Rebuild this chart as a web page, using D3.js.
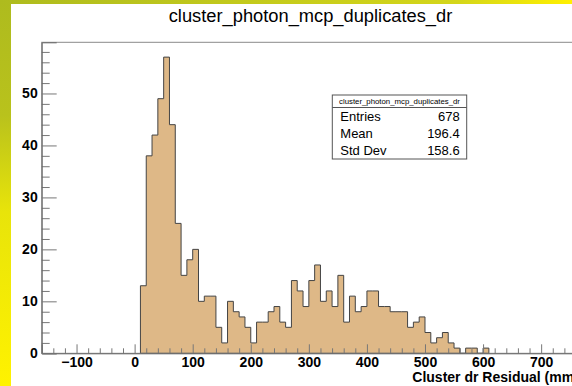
<!DOCTYPE html>
<html>
<head>
<meta charset="utf-8">
<script src="https://cdn.jsdelivr.net/npm/d3@7"></script>
<style>
  html, body { margin: 0; padding: 0; background: #fff; }
  svg { display: block; font-family: "Liberation Sans", Arial, sans-serif; }
  .tick text { font-weight: bold; font-size: 14px; fill: #000; }
</style>
</head>
<body>
<svg id="chart" width="572" height="386"></svg>
<script>
// histogram: lower bin edges (mm) and counts, bin width 10
const binLow = [10, 20, 30, 40, 50, 60, 70, 80, 90, 100,
  110, 120, 130, 140, 150, 160, 170, 180, 190, 200,
  210, 220, 230, 240, 250, 260, 270, 280, 290, 300,
  310, 320, 330, 340, 350, 360, 370, 380, 390, 400,
  410, 420, 430, 440, 450, 460, 470, 480, 490, 500,
  510, 520, 530, 540, 550, 560, 570, 580, 590, 600];
const counts = [13, 38, 42, 49, 57, 44, 25, 15, 18, 20,
  10, 11, 11, 5, 2, 10, 8, 7, 5, 2,
  6, 6, 8, 9, 6, 5, 14, 12, 9, 14,
  17, 10, 12, 9, 15, 6, 11, 8, 9, 12,
  12, 9, 9, 8, 8, 8, 5, 6, 7, 4,
  2, 3, 4, 2, 1, 0, 1, 1, 0, 1];
const binWidth = 10;

const xTicks = [-100, 0, 100, 200, 300, 400, 500, 600, 700];
const yTicks = [0, 10, 20, 30, 40, 50];

const histName = "cluster_photon_mcp_duplicates_dr";
const statNames = ["Entries", "Mean", "Std Dev"];
const statValues = ["678", "196.4", "158.6"];

const svg = d3.select("#chart");

// slide background strips
const defs = svg.append("defs");
const gl = defs.append("linearGradient").attr("id", "leftStrip")
  .attr("x1", 0).attr("y1", 0).attr("x2", 0).attr("y2", 1);
gl.append("stop").attr("offset", "0%").attr("stop-color", "#aebb1e");
gl.append("stop").attr("offset", "30%").attr("stop-color", "#b9c21c");
gl.append("stop").attr("offset", "55%").attr("stop-color", "#e8e40a");
gl.append("stop").attr("offset", "100%").attr("stop-color", "#fff200");
const gt = defs.append("linearGradient").attr("id", "topStrip")
  .attr("x1", 0).attr("y1", 0).attr("x2", 1).attr("y2", 0);
gt.append("stop").attr("offset", "0%").attr("stop-color", "#aebb1e");
gt.append("stop").attr("offset", "80%").attr("stop-color", "#d4d61a");
gt.append("stop").attr("offset", "100%").attr("stop-color", "#fff000");

svg.append("rect").attr("width", 572).attr("height", 386).attr("fill", "url(#leftStrip)");
svg.append("rect").attr("width", 572).attr("height", 4).attr("fill", "url(#topStrip)");
svg.append("rect").attr("x", 11).attr("y", 4).attr("width", 561).attr("height", 382).attr("fill", "#fff");

const frame = { left: 41.7, top: 42.3, bottom: 353.3, right: 581.8 };

const x = d3.scaleLinear().domain([-160, 770]).range([frame.left, frame.right]);
const y = d3.scaleLinear().domain([0, 59.85]).range([frame.bottom, frame.top]);

// histogram fill + outline
const pts = binLow.map((b, i) => ({ x: b, v: counts[i] }));
pts.push({ x: binLow[binLow.length - 1] + binWidth, v: counts[counts.length - 1] });

const area = d3.area()
  .x(d => x(d.x))
  .y0(y(0))
  .y1(d => y(d.v))
  .curve(d3.curveStepAfter);

svg.append("path")
  .datum(pts)
  .attr("d", area)
  .attr("fill", "#deb887")
  .attr("stroke", "#444")
  .attr("stroke-width", 1);

// frame
svg.append("rect")
  .attr("x", frame.left).attr("y", frame.top)
  .attr("width", frame.right - frame.left).attr("height", frame.bottom - frame.top)
  .attr("fill", "none").attr("stroke", "#8a8a8a").attr("stroke-width", 1);

// x axis
const xMinor = d3.range(-140, 771, 20).filter(v => v % 100 !== 0);
svg.append("g")
  .attr("transform", `translate(0,${frame.bottom})`)
  .call(d3.axisBottom(x).tickValues(xMinor).tickSize(-5).tickFormat(""))
  .call(g => g.select(".domain").remove())
  .call(g => g.selectAll("line").attr("stroke", "#777"));
svg.append("g")
  .attr("transform", `translate(0,${frame.bottom})`)
  .call(d3.axisBottom(x).tickValues(xTicks).tickSize(-9).tickPadding(4))
  .call(g => g.select(".domain").attr("stroke", "#666"))
  .call(g => g.selectAll("line").attr("stroke", "#777"));

// y axis
const yMinor = d3.range(2, 59, 2).filter(v => v % 10 !== 0);
svg.append("g")
  .attr("transform", `translate(${frame.left},0)`)
  .call(d3.axisLeft(y).tickValues(yMinor).tickSize(-8).tickFormat(""))
  .call(g => g.select(".domain").remove())
  .call(g => g.selectAll("line").attr("stroke", "#777"));
svg.append("g")
  .attr("transform", `translate(${frame.left},0)`)
  .call(d3.axisLeft(y).tickValues(yTicks).tickSize(-15).tickPadding(4))
  .call(g => g.select(".domain").attr("stroke", "#666"))
  .call(g => g.selectAll("line").attr("stroke", "#777"));

// titles
svg.append("text")
  .attr("x", 310.5).attr("y", 22)
  .attr("text-anchor", "middle")
  .attr("font-size", 18.3)
  .text(histName);

// axis title runs off the right edge, as in the reference
svg.append("text")
  .attr("x", frame.right - 3).attr("y", 382)
  .attr("text-anchor", "end")
  .attr("font-size", 14).attr("font-weight", "bold")
  .text("Cluster dr Residual (mm)");

// stats box
const box = { x: 332.3, y: 95, w: 134.4, h: 64, head: 12.5 };
const sb = svg.append("g");
sb.append("rect")
  .attr("x", box.x).attr("y", box.y).attr("width", box.w).attr("height", box.h)
  .attr("fill", "#fff").attr("stroke", "#555").attr("stroke-width", 1);
sb.append("line")
  .attr("x1", box.x).attr("x2", box.x + box.w)
  .attr("y1", box.y + box.head).attr("y2", box.y + box.head)
  .attr("stroke", "#555");
sb.append("text")
  .attr("x", box.x + box.w / 2).attr("y", box.y + 9)
  .attr("text-anchor", "middle").attr("font-size", 7.8)
  .text(histName);
const rowH = (box.h - box.head) / statNames.length;
statNames.forEach((n, i) => {
  const base = box.y + box.head + rowH * i + rowH / 2 + 5;
  sb.append("text").attr("x", box.x + 8).attr("y", base)
    .attr("font-size", 13).text(n);
  sb.append("text").attr("x", box.x + box.w - 7).attr("y", base)
    .attr("text-anchor", "end").attr("font-size", 13).text(statValues[i]);
});
</script>
</body>
</html>
